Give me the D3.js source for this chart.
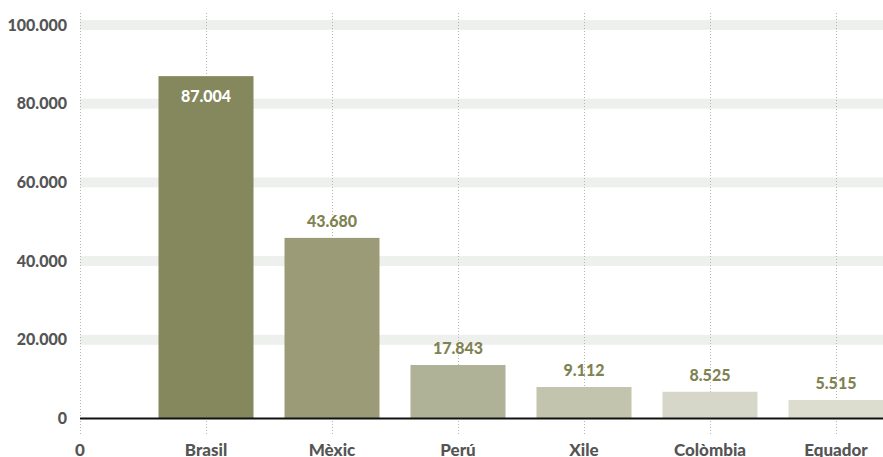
<!DOCTYPE html>
<html>
<head>
<meta charset="utf-8">
<script src="https://cdn.jsdelivr.net/npm/d3@7"></script>
<style>
  body { margin: 0; background: #fff; }
  text { font-family: Lato, "Open Sans", sans-serif; font-weight: 900; }
</style>
</head>
<body>
<div class="chart"></div>
<script>
let width = 883, height = 457;
let margin = {top: 13, bottom: 38.5, left: 80, right: 0};

let countries = ["Brasil", "Mèxic", "Perú", "Xile", "Colòmbia", "Equador"];
let values = [87004, 45900, 13600, 8000, 6800, 4700];
let labels = ["87.004", "43.680", "17.843", "9.112", "8.525", "5.515"];
let barColors = ["#85875c", "#9b9b77", "#b0b297", "#c3c4ae", "#d6d7c8", "#dcddcf"];
let yTicks = [0, 20000, 40000, 60000, 80000, 100000];

let fmt = d => d3.format(",")(d).replace(/,/g, ".");

const svg = d3.select(".chart")
  .append("svg")
  .attr("width", width)
  .attr("height", height);

let y = d3.scaleLinear()
  .domain([0, 100000])
  .range([height - margin.bottom, 25]);

// x positions: 0 at the left edge, categories at 1..6
let x = d3.scaleLinear()
  .domain([0, 6])
  .range([margin.left, 836]);

// grid bands
svg.append("g")
  .selectAll("rect")
  .data(yTicks.filter(d => d > 0))
  .enter()
  .append("rect")
  .attr("x", margin.left)
  .attr("y", d => y(d) - 5)
  .attr("width", width - margin.left)
  .attr("height", 10)
  .style("fill", "#eef0ee");

// dotted verticals
svg.append("g")
  .selectAll("line")
  .data(d3.range(0, 7))
  .enter()
  .append("line")
  .attr("x1", d => x(d) + 0.5)
  .attr("x2", d => x(d) + 0.5)
  .attr("y1", margin.top)
  .attr("y2", 436)
  .style("stroke", "#b5b5b5")
  .style("stroke-width", 1)
  .style("stroke-dasharray", "1,2");

// bars
const bw = 95;
svg.append("g")
  .selectAll("rect")
  .data(values)
  .enter()
  .append("rect")
  .attr("x", (d, i) => x(i + 1) - bw / 2)
  .attr("y", d => y(d))
  .attr("width", bw)
  .attr("height", d => y(0) - y(d))
  .style("fill", (d, i) => barColors[i]);

// baseline
svg.append("line")
  .attr("x1", margin.left)
  .attr("x2", width)
  .attr("y1", y(0))
  .attr("y2", y(0))
  .style("stroke", "#111")
  .style("stroke-width", 2);

// value labels
svg.append("g")
  .selectAll("text")
  .data(values)
  .enter()
  .append("text")
  .attr("x", (d, i) => x(i + 1))
  .attr("y", (d, i) => i === 0 ? y(d) + 26 : y(d) - 11)
  .attr("text-anchor", "middle")
  .style("font-size", "16px")
  .style("fill", (d, i) => i === 0 ? "#fff" : "#7f8352")
  .text((d, i) => labels[i]);

// y axis labels
svg.append("g")
  .selectAll("text")
  .data(yTicks)
  .enter()
  .append("text")
  .attr("x", 67)
  .attr("y", d => y(d))
  .attr("dy", "0.35em")
  .attr("text-anchor", "end")
  .style("font-size", "16px")
  .style("fill", "#555")
  .text(d => fmt(d));

// x axis labels
let xLabels = ["0"].concat(countries);
svg.append("g")
  .selectAll("text")
  .data(xLabels)
  .enter()
  .append("text")
  .attr("x", (d, i) => x(i))
  .attr("y", 456)
  .attr("text-anchor", "middle")
  .style("font-size", "17px")
  .style("fill", "#555")
  .text(d => d);
</script>
</body>
</html>
